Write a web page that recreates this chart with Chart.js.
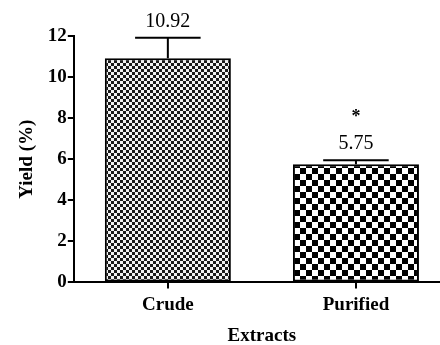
<!DOCTYPE html>
<html>
<head>
<meta charset="utf-8">
<script src="https://cdn.jsdelivr.net/npm/chart.js@4"></script>
<style>
  html, body { margin: 0; padding: 0; background: #fff; overflow: hidden; }
  #wrap { width: 440px; height: 345px; overflow: hidden; }
</style>
</head>
<body>
<div id="wrap"><canvas id="yield" width="450" height="347"></canvas></div>
<script>
let categories = ['Crude', 'Purified']
let yieldValues = [10.92, 5.75]
let yieldErrors = [1.0, 0.2]
let valueLabels = ['10.92', '5.75']
let starLabels = ['', '*']
let yTicks = [0, 2, 4, 6, 8, 10, 12]

function checker(cell, dark, light){
    let c = document.createElement('canvas')
    c.width = cell * 2
    c.height = cell * 2
    let g = c.getContext('2d')
    g.fillStyle = light
    g.fillRect(0, 0, cell * 2, cell * 2)
    g.fillStyle = dark
    g.fillRect(0, 0, cell, cell)
    g.fillRect(cell, cell, cell, cell)
    return g.createPattern(c, 'repeat')
}

let serif = "'Liberation Serif', 'DejaVu Serif', serif"

let errorBars = {
    id: 'errorBars',
    afterDatasetsDraw(chart){
        let ctx = chart.ctx
        let meta = chart.getDatasetMeta(0)
        let y = chart.scales.y
        ctx.save()
        ctx.strokeStyle = '#000'
        ctx.lineWidth = 2
        ctx.fillStyle = '#000'
        ctx.textAlign = 'center'
        meta.data.forEach(function(bar, i){
            let top = y.getPixelForValue(yieldValues[i] + yieldErrors[i])
            let base = y.getPixelForValue(yieldValues[i])
            let half = bar.width * 0.26
            ctx.beginPath()
            ctx.moveTo(bar.x, base)
            ctx.lineTo(bar.x, top)
            ctx.moveTo(bar.x - half, top)
            ctx.lineTo(bar.x + half, top)
            ctx.stroke()
            ctx.font = '20px ' + serif
            ctx.textBaseline = 'alphabetic'
            ctx.fillText(valueLabels[i], bar.x, top - 11)
            if (starLabels[i]) {
                ctx.font = 'bold 18px ' + serif
                ctx.fillText(starLabels[i], bar.x, top - 38)
            }
        })
        ctx.restore()
    }
}

let kaart = document.getElementById('yield').getContext('2d')
let chart = new Chart(kaart, {
    type: 'bar',
    data: {
        labels: categories,
        datasets: [{
            label: 'Yield',
            data: yieldValues,
            backgroundColor: [checker(3, '#1a1a1a', '#f2f2f2'), checker(6, '#000', '#fff')],
            borderColor: '#000',
            borderWidth: 2,
            borderSkipped: false,
            barPercentage: 0.67,
            categoryPercentage: 1
        }]
    },
    options: {
        responsive: false,
        animation: false,
        devicePixelRatio: 1,
        layout: { padding: { top: 36, right: 0, left: 16, bottom: 0 } },
        plugins: { legend: { display: false }, tooltip: { enabled: false } },
        scales: {
            x: {
                grid: { display: true, offset: false, drawOnChartArea: false, color: '#000', lineWidth: 2, tickLength: 6 },
                border: { display: true, color: '#000', width: 2 },
                ticks: { color: '#000', font: { family: serif, size: 19, weight: 'bold' }, padding: 5 },
                title: { display: true, text: 'Extracts', color: '#000', font: { family: serif, size: 19, weight: 'bold' }, padding: { top: 3, bottom: 0 } }
            },
            y: {
                min: 0,
                max: 12,
                afterBuildTicks(axis){ axis.ticks = yTicks.map(v => ({ value: v })) },
                grid: { display: true, drawOnChartArea: false, color: '#000', lineWidth: 2, tickLength: 6 },
                border: { display: true, color: '#000', width: 2 },
                ticks: { color: '#000', font: { family: serif, size: 19, weight: 'bold' }, padding: 1 },
                title: { display: true, text: 'Yield (%)', color: '#000', font: { family: serif, size: 19, weight: 'bold' }, padding: { top: 0, bottom: 8 } }
            }
        }
    },
    plugins: [errorBars]
})
</script>
</body>
</html>
